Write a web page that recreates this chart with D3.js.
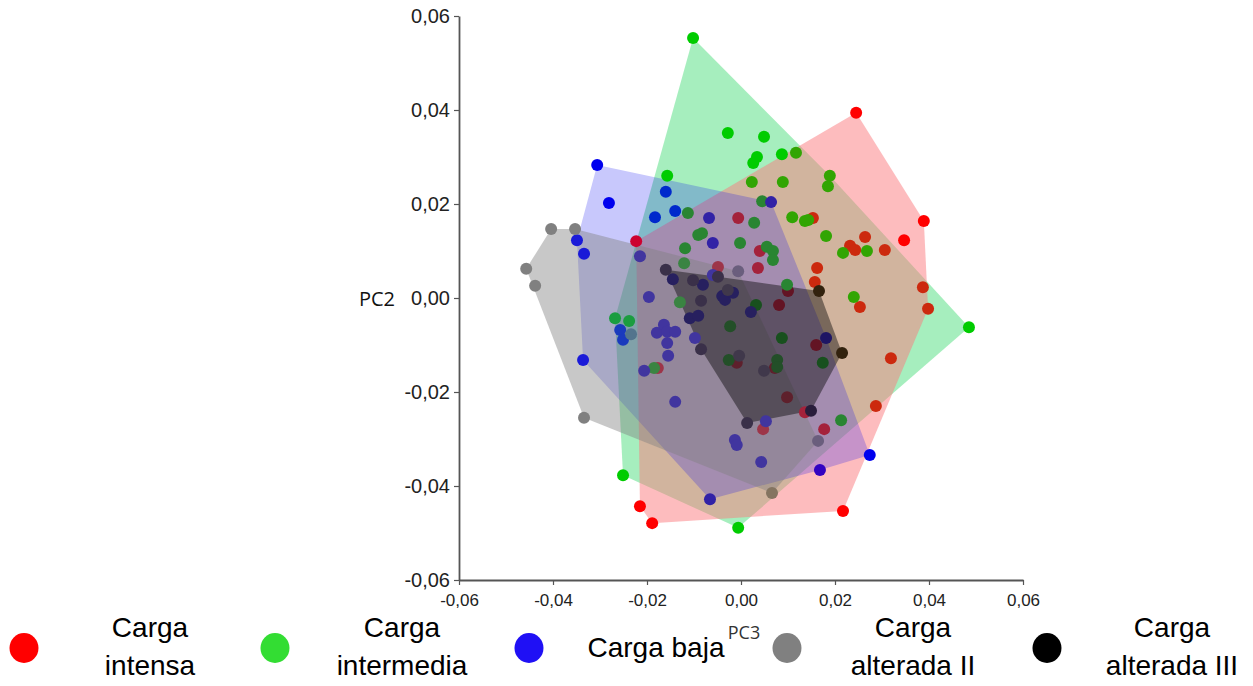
<!DOCTYPE html>
<html>
<head>
<meta charset="utf-8">
<script src="https://cdn.jsdelivr.net/npm/d3@7"></script>
<style>
  html, body { margin: 0; padding: 0; background: #fff; }
  svg { display: block; }
</style>
</head>
<body>
<svg id="chart" width="1253" height="686"></svg>
<script>
// ---------- DATA (PC3, PC2) ----------
const groupNames = ["Carga intensa", "Carga intermedia", "Carga baja", "Carga alterada II", "Carga alterada III"];

const cargaIntensa = [
  [0.0245,0.0394],[0.0389,0.0164],[0.0347,0.0123],[0.0387,0.0023],[0.0398,-0.0023],
  [0.0306,0.0102],[0.0264,0.0130],[0.0232,0.0111],[0.0243,0.0102],[0.0153,0.0170],
  [0.0162,0.0064],[0.0157,0.0034],[0.0253,-0.0019],[0.0319,-0.0128],[0.0287,-0.0230],
  [0.0217,-0.0453],[-0.0215,-0.0443],[-0.0189,-0.0479],[-0.0177,-0.0149],[-0.0223,0.0121],
  [-0.0006,0.0170],[0.0040,0.0100],[0.0036,0.0064],[-0.0049,0.0066],[0.0081,-0.0015],
  [0.0100,0.0015],[0.0160,-0.0100],[-0.0009,-0.0138],[0.0072,-0.0149],[0.0098,-0.0211],
  [0.0047,-0.0279],[0.0177,-0.0279],[0.0136,-0.0243]
];

const cargaIntermedia = [
  [-0.0102,0.0553],[-0.0028,0.0351],[0.0049,0.0343],[0.0087,0.0306],[0.0117,0.0309],
  [0.0034,0.0300],[0.0026,0.0287],[0.0189,0.0260],[0.0185,0.0238],[0.0023,0.0247],
  [0.0089,0.0247],[0.0045,0.0206],[0.0109,0.0172],[0.0143,0.0166],[0.0136,0.0164],
  [0.0181,0.0132],[0.0217,0.0096],[0.0268,0.0100],[0.0240,0.0002],[0.0485,-0.0062],
  [-0.0006,-0.0489],[0.0213,-0.0260],[0.0174,-0.0138],[0.0087,-0.0085],[0.0077,-0.0132],
  [0.0077,-0.0147],[-0.0023,-0.0060],[-0.0026,-0.0132],[0.0032,-0.0015],[-0.0130,-0.0009],
  [-0.0268,-0.0043],[-0.0238,-0.0049],[-0.0185,-0.0149],[-0.0251,-0.0377],[0.0028,0.0160],
  [-0.0002,0.0117],[0.0055,0.0109],[0.0068,0.0100],[0.0068,0.0081],[-0.0119,0.0106],
  [-0.0121,0.0074],[-0.0091,0.0134],[-0.0083,0.0138],[-0.0113,0.0181],[-0.0157,0.0260],
  [0.0098,0.0028]
];

const cargaBaja = [
  [-0.0306,0.0283],[-0.0281,0.0202],[-0.0160,0.0226],[-0.0183,0.0172],[-0.0140,0.0185],
  [-0.0349,0.0123],[-0.0334,0.0094],[-0.0215,0.0089],[-0.0196,0.0002],[-0.0336,-0.0132],
  [-0.0257,-0.0068],[-0.0251,-0.0089],[-0.0206,-0.0155],[-0.0179,-0.0074],[-0.0164,-0.0057],
  [-0.0157,-0.0072],[-0.0140,-0.0072],[-0.0157,-0.0096],[-0.0155,-0.0123],[-0.0140,-0.0221],
  [0.0064,0.0204],[-0.0068,0.0170],[-0.0060,0.0117],[-0.0081,0.0028],[-0.0040,0.0004],
  [-0.0034,-0.0004],[-0.0017,0.0011],[-0.0060,0.0049],[0.0021,-0.0030],[-0.0109,-0.0043],
  [-0.0091,-0.0038],[-0.0098,-0.0085],[0.0181,-0.0085],[0.0053,-0.0262],[-0.0013,-0.0302],
  [-0.0009,-0.0313],[0.0043,-0.0349],[0.0168,-0.0366],[0.0274,-0.0334],[-0.0066,-0.0428],
  [-0.0145,0.0040]
];

const cargaAlteradaII = [
  [-0.0404,0.0147],[-0.0353,0.0147],[-0.0457,0.0062],[-0.0438,0.0026],[-0.0334,-0.0255],
  [-0.0234,-0.0077],[-0.0006,0.0057],[-0.0028,0.0017],[-0.0004,-0.0123],[0.0049,-0.0155],
  [0.0164,-0.0304],[0.0066,-0.0415]
];

const cargaAlteradaIII = [
  [-0.0160,0.0060],[0.0166,0.0015],[0.0215,-0.0117],[0.0149,-0.0240],[0.0013,-0.0266],
  [-0.0085,-0.0006],[-0.0085,-0.0109],[-0.0102,0.0038],[-0.0049,0.0045]
];

const tickValues = [-0.06, -0.04, -0.02, 0.00, 0.02, 0.04, 0.06];
const tickLabels = ["-0,06", "-0,04", "-0,02", "0,00", "0,02", "0,04", "0,06"];
const xTitle = "PC3";
const yTitle = "PC2";
const legendLines = [["Carga","intensa"],["Carga","intermedia"],["Carga baja"],["Carga","alterada II"],["Carga","alterada III"]];

// ---------- STYLE ----------
const pointColors = [[255,0,0], [0,204,0], [0,0,238], [128,128,128], [0,0,0]];
// region fills (what the areas look like)
const hullColors  = ["rgb(251,121,125)", "rgb(0,205,70)", "rgb(5,5,241)", "rgb(128,128,128)", "rgb(0,0,0)"];
const hullAlpha   = [0.5, 0.35, 0.22, 0.43, 0.42];
// tint applied to points lying under each area
const tintColors  = [[248,8,14], [0,205,70], [5,5,241], [128,128,128], [0,0,0]];
const tintAlpha   = [0.2, 0.2, 0.2, 0.2, 0.4];
const legendColors = ["#ff0000", "#33dd33", "#1f10f5", "#808080", "#000000"];

const groups = [cargaIntensa, cargaIntermedia, cargaBaja, cargaAlteradaII, cargaAlteradaIII];

const svg = d3.select("#chart");
svg.append("rect").attr("width", 1253).attr("height", 686).attr("fill", "#fff");
const x = d3.scaleLinear().domain([-0.06, 0.06]).range([459, 1023]);
const y = d3.scaleLinear().domain([-0.06, 0.06]).range([580, 16]);

// hulls (translucent)
const hullOrder = [1, 0, 2, 3, 4];
const hulls = groups.map(g => d3.polygonHull(g.map(d => [x(d[0]), y(d[1])])));
const hg = svg.append("g");
hullOrder.forEach(i => {
  hg.append("path")
    .attr("d", "M" + hulls[i].join("L") + "Z")
    .attr("fill", hullColors[i])
    .attr("fill-opacity", hullAlpha[i])
    .attr("stroke", "none");
});

// point colour as seen through the areas covering it
function seenColor(gi, d) {
  let c = pointColors[gi].slice();
  const p = [x(d[0]), y(d[1])];
  hullOrder.forEach(h => {
    if (h === gi) return;
    if (d3.polygonContains(hulls[h], p)) {
      const a = tintAlpha[h];
      c = c.map((v, k) => v * (1 - a) + tintColors[h][k] * a);
    }
  });
  return d3.rgb(c[0], c[1], c[2]).toString();
}

const pts = svg.append("g");
groups.forEach((g, i) => {
  pts.selectAll(null).data(g).enter().append("circle")
    .attr("cx", d => x(d[0])).attr("cy", d => y(d[1]))
    .attr("r", 6).attr("fill", d => seenColor(i, d));
});

// axes
const fmt = v => tickLabels[tickValues.findIndex(t => Math.abs(t - v) < 1e-9)];
const yAxis = svg.append("g").attr("transform", "translate(459,0)")
  .call(d3.axisLeft(y).tickValues(tickValues).tickFormat(fmt).tickSize(5).tickSizeOuter(0).tickPadding(4));
const xAxis = svg.append("g").attr("transform", "translate(0,580)")
  .call(d3.axisBottom(x).tickValues(tickValues).tickFormat(fmt).tickSize(5).tickSizeOuter(0).tickPadding(9));
[yAxis, xAxis].forEach(a => {
  a.select(".domain").attr("stroke", "#555").attr("stroke-width", 1.8);
  a.selectAll(".tick line").attr("stroke", "#555").attr("stroke-width", 1.2);
  a.selectAll(".tick text").attr("fill", "#222").attr("font-family", "'Liberation Sans', Arial, sans-serif");
});
yAxis.selectAll(".tick text").attr("font-size", 20);
xAxis.selectAll(".tick text").attr("font-size", 17);

// axis titles
svg.append("text").text(yTitle).attr("x", 377).attr("y", 306)
  .attr("text-anchor", "middle").attr("font-family", "'Open Sans', 'DejaVu Sans', sans-serif")
  .attr("font-size", 20).attr("fill", "#111");
svg.append("text").text(xTitle).attr("x", 744).attr("y", 639)
  .attr("text-anchor", "middle").attr("font-family", "'Open Sans', 'DejaVu Sans', sans-serif")
  .attr("font-size", 18).attr("fill", "#333");

// legend
const legCx = [24, 275, 529, 787, 1047];
const legTx = [150, 402, 656, 913, 1172];
const lg = svg.append("g");
legendLines.forEach((lines, i) => {
  lg.append("ellipse").attr("cx", legCx[i]).attr("cy", 648).attr("rx", 14.5).attr("ry", 15)
    .attr("fill", legendColors[i]);
  const t = lg.append("text").attr("text-anchor", "middle")
    .attr("font-family", "'Liberation Sans', Arial, sans-serif").attr("font-size", 28).attr("fill", "#000");
  if (lines.length === 1) {
    t.append("tspan").attr("x", legTx[i]).attr("y", 657).text(lines[0]);
  } else {
    t.append("tspan").attr("x", legTx[i]).attr("y", 637).text(lines[0]);
    t.append("tspan").attr("x", legTx[i]).attr("y", 675).text(lines[1]);
  }
});
</script>
</body>
</html>
